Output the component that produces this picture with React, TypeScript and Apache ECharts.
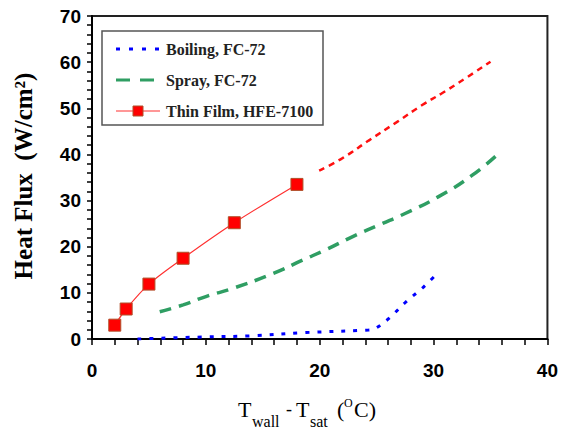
import React, { useEffect, useRef } from "react";
import * as echarts from "echarts";

// Boiling, FC-72 (blue dotted)
const boilX = [4.0, 9.2, 14.1, 18.8, 24.3, 24.9, 26.1, 27.6, 29.0, 30.2];
const boilY = [0, 0.4, 0.7, 1.4, 1.95, 2.3, 4.5, 8.1, 11.0, 13.9];
// Spray, FC-72 (green dashed)
const sprayX = [5.95, 8.0, 10.0, 12.4, 15.9, 18.5, 20.5, 22.9, 25.2, 27.5, 30.4, 33.4, 35.8];
const sprayY = [5.9, 7.4, 9.2, 11.0, 14.2, 17.1, 19.3, 22.2, 24.7, 27.2, 30.8, 35.5, 40.4];
// Thin film, HFE-7100 measured points (red squares)
const thinX = [2, 3, 5, 8, 12.5, 18];
const thinY = [3.0, 6.5, 11.9, 17.5, 25.2, 33.5];
// Thin film extrapolation (red dashed)
const extX = [19.95, 22.0, 24.3, 26.7, 29.0, 30.7, 32.8, 35.0];
const extY = [36.5, 39.2, 43.0, 46.9, 50.7, 53.2, 56.5, 60.1];

const xTicks = [0, 10, 20, 30, 40];
const yTicks = [0, 10, 20, 30, 40, 50, 60, 70];

const legendNames = ["Boiling, FC-72", "Spray, FC-72", "Thin Film, HFE-7100"];

const pairs = (xs: number[], ys: number[]) => xs.map((x, i) => [x, ys[i]]);

const BLUE = "#0000ff";
const GREEN = "#2f9e63";
const RED = "#ff0000";

export default function App() {
  const ref = useRef<HTMLDivElement>(null);
  useEffect(() => {
    if (!ref.current) return;
    const chart = echarts.init(ref.current, undefined, { renderer: "svg" });
    const serif = '"Liberation Serif", "Times New Roman", serif';
    const sans = '"Liberation Sans", Arial, sans-serif';
    const tickLabel = {
      fontFamily: sans,
      fontWeight: "bold" as const,
      fontSize: 19,
      color: "#000",
    };
    const big = `22px ${serif}`;
    const sub = `16px ${serif}`;
    const txt = (text: string, x: number, y: number, font: string) => ({
      type: "text",
      x,
      y,
      z: 100,
      style: { text, font, fill: "#000", verticalAlign: "middle", textVerticalAlign: "middle" },
    });
    const legendRows = [49, 80, 111];
    const legendFont = `bold 16px ${serif}`;
    chart.setOption({
      animation: false,
      backgroundColor: "#fff",
      grid: {
        left: 92,
        top: 16,
        right: 12,
        bottom: 94,
        show: true,
        borderColor: "#222",
        borderWidth: 2,
      },
      xAxis: {
        type: "value",
        min: 0,
        max: 40,
        interval: 10,
        axisLine: { show: true, onZero: false, lineStyle: { color: "#000", width: 2 } },
        axisTick: { show: true, inside: false, length: 6, lineStyle: { color: "#000", width: 1.5 } },
        minorTick: { show: true, splitNumber: 5, length: 6, lineStyle: { color: "#000", width: 1.5 } },
        splitLine: { show: false },
        axisLabel: {
          ...tickLabel,
          margin: 22,
          formatter: (v: number) => (xTicks.includes(v) ? String(v) : ""),
        },
      },
      yAxis: {
        type: "value",
        min: 0,
        max: 70,
        interval: 10,
        axisLine: { show: true, onZero: false, lineStyle: { color: "#000", width: 2 } },
        axisTick: { show: true, inside: false, length: 5, lineStyle: { color: "#000", width: 1.5 } },
        minorTick: { show: true, splitNumber: 5, length: 5, lineStyle: { color: "#000", width: 1.5 } },
        splitLine: { show: false },
        axisLabel: {
          ...tickLabel,
          margin: 11,
          formatter: (v: number) => (yTicks.includes(v) ? String(v) : ""),
        },
      },
      series: [
        {
          name: legendNames[0],
          type: "line",
          data: pairs(boilX, boilY),
          symbol: "none",
          smooth: 0.35,
          lineStyle: { color: BLUE, width: 3, type: [4, 8] },
          z: 3,
        },
        {
          name: legendNames[1],
          type: "line",
          data: pairs(sprayX, sprayY),
          symbol: "none",
          smooth: 0.5,
          lineStyle: { color: GREEN, width: 3.5, type: [12, 8] },
          z: 3,
        },
        {
          name: legendNames[2],
          type: "line",
          data: pairs(thinX, thinY),
          symbol: "rect",
          symbolSize: 12,
          smooth: 0.3,
          lineStyle: { color: "#ff3030", width: 1.2 },
          itemStyle: { color: RED, borderColor: "#b0502a", borderWidth: 1 },
          z: 4,
        },
        {
          name: "Thin Film (extrapolated)",
          type: "line",
          data: pairs(extX, extY),
          symbol: "none",
          smooth: 0.5,
          lineStyle: { color: "#ff1010", width: 2.5, type: [6, 5] },
          z: 3,
        },
      ],
      graphic: [
        {
          type: "text",
          x: 23,
          y: 176,
          rotation: Math.PI / 2,
          style: {
            text: "Heat Flux  (W/cm²)",
            font: `bold 25px ${serif}`,
            fill: "#000",
            align: "center",
            verticalAlign: "middle",
            textAlign: "center",
            textVerticalAlign: "middle",
          },
        },
        txt("T", 238, 409, big),
        txt("wall", 252, 421, sub),
        txt("-", 286, 409, `18px ${serif}`),
        txt("T", 296, 409, big),
        txt("sat", 310, 421, sub),
        txt("(", 337, 409, big),
        txt("O", 344, 403, `12px ${serif}`),
        txt("C)", 354, 409, big),
        // legend
        {
          type: "rect",
          z: 90,
          shape: { x: 102, y: 31, width: 221, height: 94 },
          style: { fill: "#fff", stroke: "#555", lineWidth: 1.5 },
        },
        {
          type: "line",
          z: 91,
          shape: { x1: 116, y1: legendRows[0], x2: 160, y2: legendRows[0] },
          style: { stroke: BLUE, lineWidth: 3, lineDash: [4, 9] },
        },
        {
          type: "line",
          z: 91,
          shape: { x1: 116, y1: legendRows[1], x2: 160, y2: legendRows[1] },
          style: { stroke: GREEN, lineWidth: 3, lineDash: [14, 10] },
        },
        {
          type: "line",
          z: 91,
          shape: { x1: 116, y1: legendRows[2], x2: 160, y2: legendRows[2] },
          style: { stroke: "#ff3030", lineWidth: 1.2 },
        },
        {
          type: "rect",
          z: 92,
          shape: { x: 133, y: legendRows[2] - 5, width: 10, height: 10 },
          style: { fill: RED, stroke: "#b0502a", lineWidth: 1 },
        },
        ...legendNames.map((name, i) => ({
          type: "text",
          z: 93,
          x: 166,
          y: legendRows[i],
          style: {
            text: name,
            font: legendFont,
            fill: "#222",
            verticalAlign: "middle",
            textVerticalAlign: "middle",
          },
        })),
      ],
    });
    return () => chart.dispose();
  }, []);
  return <div ref={ref} style={{ width: 561, height: 433, position: "absolute", left: 0, top: 0 }} />;
}
